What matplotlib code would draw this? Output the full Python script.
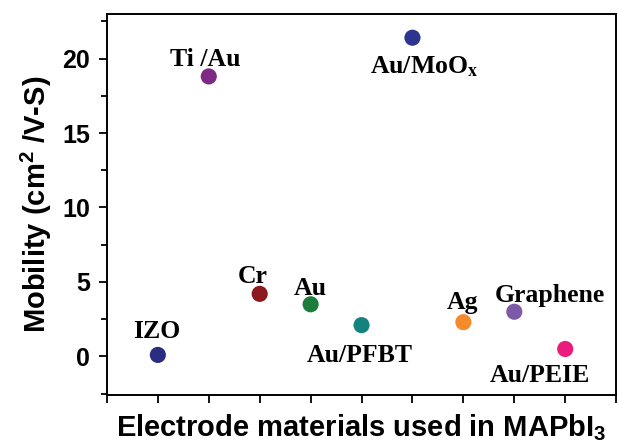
import matplotlib
matplotlib.use("Agg")
import matplotlib.pyplot as plt
from matplotlib.ticker import MultipleLocator

# data
electrodes = ["IZO", "Ti /Au", "Cr", "Au", "Au/PFBT", r"Au/MoO$_\mathbf{x}$",
              "Ag", "Graphene", "Au/PEIE"]
positions = [1, 2, 3, 4, 5, 6, 7, 8, 9]
mobility = [0.1, 18.8, 4.2, 3.5, 2.1, 21.4, 2.3, 3.0, 0.5]
colors = ["#2b2e7e", "#7d2a83", "#8a1a1e", "#1b7c3b", "#14827f",
          "#2d3590", "#f58a2a", "#7d5aa8", "#eb1a7d"]

# label offsets in pixels (dx, dy of text baseline from the marker centre)
label_offsets = [(-1, 17), (-4, 10), (-7, 11), (0, 9), (-2, -37),
                 (12, -36), (-1, 13), (36, 10), (-25, -33)]

plt.rcParams['mathtext.fontset'] = 'custom'
plt.rcParams['mathtext.rm'] = 'Liberation Sans:bold'
plt.rcParams['mathtext.bf'] = 'Liberation Sans:bold'
plt.rcParams['mathtext.it'] = 'Liberation Sans:bold'

fig = plt.figure(figsize=(6.18, 4.48), dpi=100)
ax = fig.add_axes([0.173, 0.118, 0.824, 0.851])

ax.scatter(positions, mobility, s=135, c=colors, edgecolors='none', zorder=3)

for x, y, name, (dx, dy) in zip(positions, mobility, electrodes, label_offsets):
    ax.annotate(name, (x, y), xytext=(dx, dy), textcoords='offset pixels',
                ha='center', va='baseline', fontsize=18.5, fontweight='bold',
                family='Liberation Serif', math_fontfamily='stix')

ax.set_xlim(0, 10)
ax.set_ylim(-2.6, 23.0)
ax.set_xticks(range(0, 11))
ax.set_xticklabels([])
ax.yaxis.set_major_locator(MultipleLocator(5))
ax.yaxis.set_minor_locator(MultipleLocator(2.5))
ax.set_yticks([0, 5, 10, 15, 20])

ax.tick_params(axis='both', which='major', direction='out', length=6, width=1.3,
               labelsize=18, pad=6)
ax.tick_params(axis='y', which='minor', direction='out', length=4, width=1.3)
for lab in ax.get_yticklabels():
    lab.set_family('Liberation Sans')
    lab.set_fontweight('bold')

for sp in ax.spines.values():
    sp.set_linewidth(1.4)

ax.set_ylabel(r'Mobility (cm$^\mathbf{2}$ /V-S)', fontsize=21, fontweight='bold',
              family='Liberation Sans', labelpad=6)
ax.set_xlabel(r'Electrode materials used in MAPbI$_\mathbf{3}$', fontsize=21,
              fontweight='bold', family='Liberation Sans', labelpad=0)

fig.savefig('out.png', dpi=100)
